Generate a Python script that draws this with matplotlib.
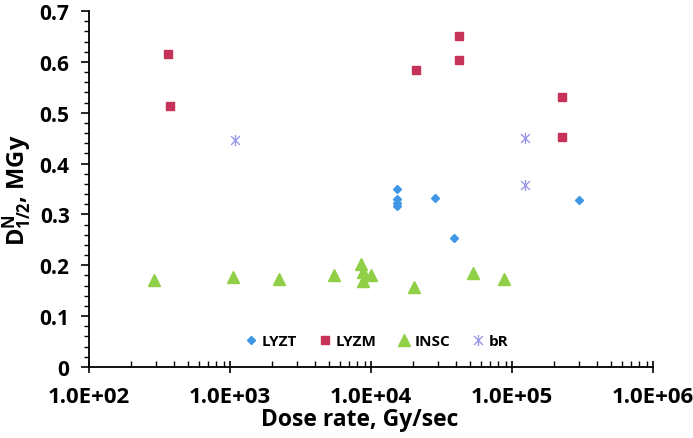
import matplotlib
matplotlib.use("Agg")
import matplotlib.pyplot as plt
from matplotlib.path import Path
from matplotlib.ticker import FixedLocator, FuncFormatter, LogLocator, MultipleLocator, NullFormatter

plt.rcParams['font.family'] = ['Open Sans', 'DejaVu Sans']
plt.rcParams['mathtext.fontset'] = 'custom'
plt.rcParams['mathtext.rm'] = 'Open Sans:bold'
plt.rcParams['mathtext.bf'] = 'Open Sans:bold'
plt.rcParams['mathtext.it'] = 'Open Sans:bold:italic'

# Data
lyzt_x = [15200, 15200, 15200, 15200, 28600, 39000, 297000]
lyzt_y = [0.350, 0.330, 0.322, 0.316, 0.333, 0.254, 0.328]

lyzm_x = [361, 373, 20950, 42300, 41900, 227500, 227000]
lyzm_y = [0.615, 0.514, 0.583, 0.651, 0.603, 0.530, 0.453]

insc_x = [289, 1050, 2215, 5500, 8500, 8730, 8730, 10000, 20100, 52600, 87700]
insc_y = [0.171, 0.176, 0.174, 0.180, 0.203, 0.186, 0.169, 0.180, 0.158, 0.185, 0.174]

br_x = [1091, 124400, 124400]
br_y = [0.447, 0.450, 0.358]

x_ticks = [1e2, 1e3, 1e4, 1e5, 1e6]
y_ticks = [0, 0.1, 0.2, 0.3, 0.4, 0.5, 0.6, 0.7]

star = Path([(0, -1), (0, 1), (-0.8, -0.8), (0.8, 0.8), (-0.8, 0.8), (0.8, -0.8)],
            [Path.MOVETO, Path.LINETO, Path.MOVETO, Path.LINETO, Path.MOVETO, Path.LINETO])

fig = plt.figure(figsize=(6.93, 4.39), dpi=100)
ax = fig.add_axes([0.1284, 0.1617, 0.8139, 0.811])

ax.plot(lyzt_x, lyzt_y, linestyle='none', marker='D', ms=4.2, color='#3f97e6', label='LYZT')
ax.plot(lyzm_x, lyzm_y, linestyle='none', marker='s', ms=6, color='#c73358', label='LYZM')
ax.plot(insc_x, insc_y, linestyle='none', marker='^', ms=8.5, color='#8fd046', label='INSC')
ax.plot(br_x, br_y, linestyle='none', marker=star, ms=8, mew=1.0, color='#9a9ae8',
        markerfacecolor='none', label='bR')

ax.set_xscale('log')
ax.set_xlim(1e2, 1e6)
ax.set_ylim(0, 0.7)
ax.xaxis.set_major_locator(FixedLocator(x_ticks))
ax.xaxis.set_major_formatter(FuncFormatter(lambda v, p: '%.1E' % v))
ax.xaxis.set_minor_locator(LogLocator(base=10, subs=range(2, 10)))
ax.xaxis.set_minor_formatter(NullFormatter())
ax.yaxis.set_major_locator(FixedLocator(y_ticks))
ax.yaxis.set_major_formatter(FuncFormatter(lambda v, p: '0' if v == 0 else '%.1f' % v))
ax.yaxis.set_minor_locator(MultipleLocator(0.02))

for s in ['top', 'right']:
    ax.spines[s].set_visible(False)
for s in ['left', 'bottom']:
    ax.spines[s].set_linewidth(1.3)
    ax.spines[s].set_color('black')

ax.tick_params(axis='x', which='major', direction='inout', length=8, width=1.2,
               labelsize=16, pad=10)
ax.tick_params(axis='x', which='minor', direction='in', length=4, width=1)
ax.tick_params(axis='y', which='major', direction='out', length=6, width=1.2,
               labelsize=15, pad=8)
ax.tick_params(axis='y', which='minor', direction='out', length=3.5, width=1)
for lab in ax.get_xticklabels() + ax.get_yticklabels():
    lab.set_fontweight('bold')

ax.set_xlabel('Dose rate, Gy/sec', fontsize=16.5, fontweight='bold')
ax.xaxis.set_label_coords(0.48, -0.112)
ax.set_ylabel(r'D$^{\mathrm{N}}_{\mathit{1/2}}$, MGy', fontsize=17, fontweight='bold')
ax.yaxis.set_label_coords(-0.097, 0.5)

leg = ax.legend(loc='lower center', bbox_to_anchor=(0.51, 0.035), ncol=4, frameon=False,
                prop={'weight': 'bold', 'size': 11}, handlelength=0.8, handletextpad=0.3,
                columnspacing=1.4, borderaxespad=0)

fig.savefig('out.png', dpi=100)
